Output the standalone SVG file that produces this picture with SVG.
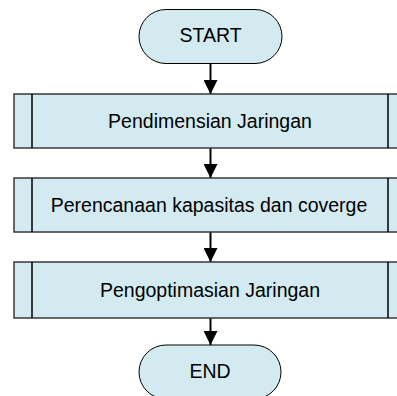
<svg xmlns="http://www.w3.org/2000/svg" width="397" height="396" viewBox="0 0 397 396">
<style>
.shape{fill:#d2eaf0;stroke:#000;stroke-width:1}
.box{fill:#d2eaf0;stroke:#3a3a3a;stroke-width:1.5}
.div{stroke:#000;stroke-width:1.5}
.lbl{font-family:"Liberation Sans",Arial,sans-serif;font-size:19.5px;fill:#000;text-anchor:middle}
.conn{stroke:#000;stroke-width:2;fill:none;marker-end:url(#arr)}
</style>
<defs>
<marker id="arr" viewBox="0 0 14 14" refX="14" refY="7" markerWidth="14" markerHeight="14" markerUnits="userSpaceOnUse" orient="auto">
<path d="M0,0 L14,7 L0,14 Z" fill="#000"/>
</marker>
</defs>
<rect width="397" height="396" fill="#fff"/>
<g id="connectors">
<line class="conn" x1="210.5" y1="63" x2="210.5" y2="94"/>
<line class="conn" x1="210.5" y1="148" x2="210.5" y2="178"/>
<line class="conn" x1="210.5" y1="232" x2="210.5" y2="262"/>
<line class="conn" x1="210.5" y1="318" x2="210.5" y2="345"/>
</g>
<g id="start">
<rect class="shape" x="139" y="9.5" width="143" height="54" rx="27" ry="27"/>
<text class="lbl" x="210.5" y="42">START</text>
</g>
<g id="p1">
<rect class="box" x="14" y="94" width="392" height="54"/>
<line class="div" x1="32" y1="94" x2="32" y2="148"/>
<line class="div" x1="388" y1="94" x2="388" y2="148"/>
<text class="lbl" x="210" y="127.5">Pendimensian Jaringan</text>
</g>
<g id="p2">
<rect class="box" x="14" y="178" width="392" height="54"/>
<line class="div" x1="32" y1="178" x2="32" y2="232"/>
<line class="div" x1="388" y1="178" x2="388" y2="232"/>
<text class="lbl" x="209" y="212">Perencanaan kapasitas dan coverge</text>
</g>
<g id="p3">
<rect class="box" x="14" y="262" width="392" height="56"/>
<line class="div" x1="32" y1="262" x2="32" y2="318"/>
<line class="div" x1="388" y1="262" x2="388" y2="318"/>
<text class="lbl" x="210" y="297">Pengoptimasian Jaringan</text>
</g>
<g id="end">
<rect class="shape" x="139" y="345" width="142" height="54" rx="27" ry="27"/>
<text class="lbl" x="210" y="378">END</text>
</g>
</svg>
